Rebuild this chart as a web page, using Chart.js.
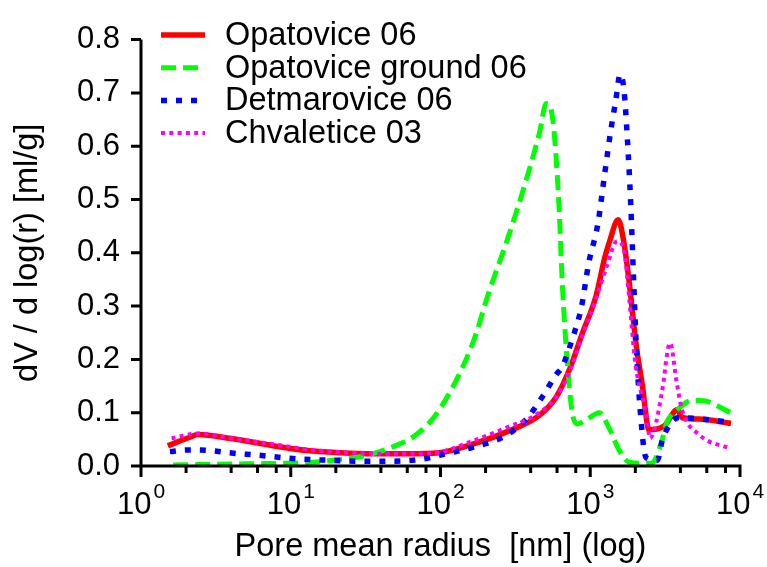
<!DOCTYPE html>
<html>
<head>
<meta charset="utf-8">
<script src="https://cdn.jsdelivr.net/npm/chart.js@4.4.1/dist/chart.umd.min.js"></script>
<style>
html, body { margin: 0; padding: 0; background: #fff; }
#wrap { position: relative; width: 767px; height: 567px; }
</style>
</head>
<body>
<div id="wrap"><canvas id="chart"></canvas></div>
<script>
const FONT = '"Liberation Sans", Arial, Helvetica, sans-serif';

const seriesNames = ["Opatovice 06", "Opatovice ground 06", "Detmarovice 06", "Chvaletice 03"];

const opatoviceRadius = [1.51, 2.12, 2.4, 3.92, 7.6, 12.8, 21.2, 35, 59, 98, 164, 276, 457, 594, 724, 886, 1096, 1247, 1342, 1537, 1683, 1820, 2030, 2222, 2471, 3112, 3828, 4093, 5321, 8710];
const opatoviceValues = [0.038, 0.054, 0.059, 0.052, 0.038, 0.029, 0.025, 0.023, 0.023, 0.025, 0.041, 0.064, 0.095, 0.13, 0.18, 0.249, 0.32, 0.39, 0.42, 0.462, 0.417, 0.345, 0.225, 0.154, 0.068, 0.075, 0.106, 0.091, 0.088, 0.08];

const groundRadius = [1.64, 5, 14, 21, 32, 46, 69, 98, 164, 211, 276, 354, 457, 509, 557, 618, 650, 700, 758, 820, 933, 1148, 1342, 1563, 1820, 2222, 2570, 2962, 3251, 3828, 4786, 5495, 8710];
const groundValues = [0.002, 0.004, 0.007, 0.012, 0.02, 0.034, 0.059, 0.105, 0.23, 0.327, 0.42, 0.515, 0.624, 0.68, 0.658, 0.49, 0.345, 0.2, 0.1, 0.079, 0.086, 0.1, 0.07, 0.029, 0.007, 0.005, 0.005, 0.041, 0.082, 0.106, 0.123, 0.123, 0.1];

const detmaroviceRadius = [1.56, 2.02, 2.88, 3.8, 6.2, 10.3, 17.4, 29, 48, 80, 98, 164, 276, 375, 479, 594, 647, 758, 871, 977, 1122, 1247, 1374, 1479, 1585, 1683, 1770, 1862, 1950, 2030, 2154, 2355, 2812, 3020, 3381, 3900, 5070, 8710];
const detmaroviceValues = [0.027, 0.03, 0.029, 0.025, 0.02, 0.014, 0.011, 0.009, 0.009, 0.014, 0.02, 0.035, 0.058, 0.088, 0.13, 0.172, 0.185, 0.238, 0.297, 0.381, 0.453, 0.547, 0.631, 0.685, 0.735, 0.703, 0.614, 0.494, 0.345, 0.225, 0.106, 0.016, 0.011, 0.047, 0.077, 0.091, 0.089, 0.082];

const chvaleticeRadius = [1.6, 2.4, 4.0, 7.6, 14, 24, 39, 65, 94, 164, 276, 457, 594, 724, 886, 1096, 1288, 1514, 1683, 1820, 1995, 2355, 2512, 2754, 3020, 3412, 3767, 4093, 5321, 8710];
const chvaleticeValues = [0.052, 0.061, 0.052, 0.041, 0.03, 0.025, 0.023, 0.023, 0.025, 0.047, 0.072, 0.1, 0.13, 0.175, 0.245, 0.315, 0.374, 0.422, 0.404, 0.315, 0.195, 0.1, 0.052, 0.082, 0.141, 0.231, 0.159, 0.106, 0.059, 0.032];

const xMajorTicks = [1, 10, 100, 1000, 10000];
const xExponents = ["0", "1", "2", "3", "4"];
const xMinorFactors = [2, 4, 6, 8];
const yTicks = [0, 0.1, 0.2, 0.3, 0.4, 0.5, 0.6, 0.7, 0.8];

function points(radius, values)
{
	return radius.map((r, i) => ({x: r, y: values[i]}));
}

function series(label, radius, values, color, width, dash, order)
{
	return {label, data: points(radius, values), borderColor: color, backgroundColor: color,
		borderWidth: width, borderDash: dash, borderCapStyle: 'butt', borderJoinStyle: 'miter',
		pointRadius: 0, cubicInterpolationMode: 'monotone', fill: false, order};
}

const axes = {
	id: 'axes',
	afterDraw(chart)
	{
		const {ctx, chartArea: area, scales: {x, y}} = chart;
		ctx.save();
		ctx.strokeStyle = '#000';
		ctx.lineWidth = 3;
		ctx.lineCap = 'butt';
		ctx.beginPath();
		ctx.moveTo(area.left, area.top);
		ctx.lineTo(area.left, area.bottom + 1.5);
		ctx.moveTo(area.left - 1.5, area.bottom);
		ctx.lineTo(area.right + 1.5, area.bottom);
		yTicks.forEach(v => {
			const py = y.getPixelForValue(v);
			ctx.moveTo(area.left - 10, py);
			ctx.lineTo(area.left, py);
		});
		xMajorTicks.forEach(v => {
			const px = x.getPixelForValue(v);
			ctx.moveTo(px, area.bottom);
			ctx.lineTo(px, area.bottom + 11);
		});
		xMajorTicks.slice(0, -1).forEach(base => xMinorFactors.forEach(f => {
			const px = x.getPixelForValue(base * f);
			ctx.moveTo(px, area.bottom);
			ctx.lineTo(px, area.bottom + 7);
		}));
		ctx.stroke();

		ctx.fillStyle = '#000';
		ctx.textBaseline = 'alphabetic';
		ctx.textAlign = 'left';
		xMajorTicks.forEach((v, i) => {
			const px = x.getPixelForValue(v);
			ctx.font = '31px ' + FONT;
			const w1 = ctx.measureText('10').width;
			ctx.font = '21px ' + FONT;
			const w2 = ctx.measureText(xExponents[i]).width;
			const left = px - (w1 + 2 + w2) / 2;
			ctx.font = '31px ' + FONT;
			ctx.fillText('10', left, 514);
			ctx.font = '21px ' + FONT;
			ctx.fillText(xExponents[i], left + w1 + 2, 498);
		});

		ctx.font = '32.5px ' + FONT;
		ctx.textBaseline = 'middle';
		chart.data.datasets.forEach((ds, i) => {
			const ly = 35 + i * 32.7;
			ctx.beginPath();
			ctx.strokeStyle = ds.borderColor;
			ctx.lineWidth = ds.borderWidth;
			ctx.setLineDash(ds.borderDash);
			ctx.moveTo(161, ly);
			ctx.lineTo(205, ly);
			ctx.stroke();
			ctx.setLineDash([]);
			ctx.fillText(ds.label, 225, ly + 1);
		});
		ctx.restore();
	}
};

new Chart(document.getElementById('chart'), {
	type: 'line',
	data: {
		datasets: [
			series(seriesNames[0], opatoviceRadius, opatoviceValues, '#ff0000', 5.5, [], 4),
			series(seriesNames[1], groundRadius, groundValues, '#00ff00', 5, [15, 7], 3),
			series(seriesNames[2], detmaroviceRadius, detmaroviceValues, '#0000ff', 5.5, [6, 9], 2),
			series(seriesNames[3], chvaleticeRadius, chvaleticeValues, '#ff00ff', 4, [4, 4.3], 1)
		]
	},
	options: {
		responsive: true,
		maintainAspectRatio: false,
		animation: false,
		layout: {padding: {top: 19, right: 27, left: 0, bottom: 0}},
		plugins: {legend: {display: false}, tooltip: {enabled: false}},
		scales: {
			x: {
				type: 'logarithmic',
				min: 1,
				max: 10000,
				grid: {display: false, drawTicks: false},
				border: {display: false},
				ticks: {display: false},
				title: {display: true, text: 'Pore mean radius  [nm] (log)', color: '#000',
					font: {family: FONT, size: 32.5}, padding: {top: 0, bottom: 0}},
				afterFit: scale => { scale.height = 101; }
			},
			y: {
				min: 0,
				max: 0.8,
				grid: {display: false, drawTicks: false},
				border: {display: false},
				ticks: {stepSize: 0.1, color: '#000', padding: 21, font: {family: FONT, size: 31},
					callback: v => v.toFixed(1)},
				title: {display: true, text: 'dV / d log(r) [ml/g]', color: '#000',
					font: {family: FONT, size: 32.5}, padding: {top: 9, bottom: 0}},
				afterFit: scale => { scale.width = 141; }
			}
		}
	},
	plugins: [axes]
});
</script>
</body>
</html>
